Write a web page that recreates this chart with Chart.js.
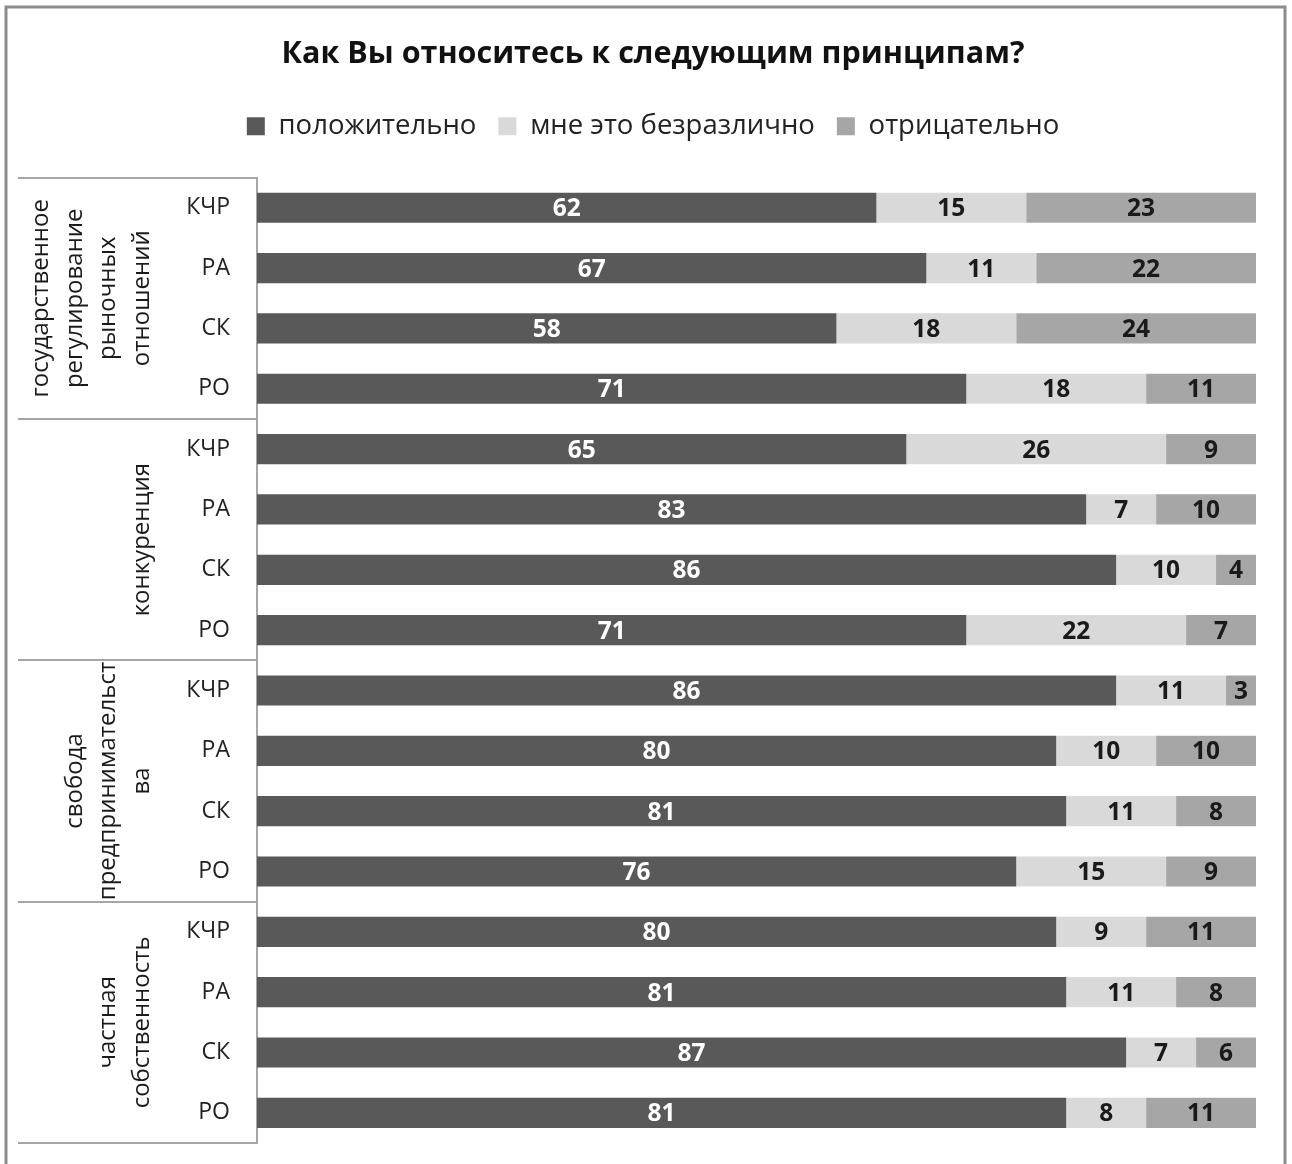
<!DOCTYPE html>
<html>
<head>
<meta charset="utf-8">
<script src="https://cdn.jsdelivr.net/npm/chart.js@4.4.1/dist/chart.umd.min.js"></script>
<style>
  html, body { margin: 0; padding: 0; background: #fff; }
  canvas { display: block; }
</style>
</head>
<body>
<canvas id="c" width="1292" height="1164"></canvas>
<script>
// ---- data ----
const titleText = "Как Вы относитесь к следующим принципам?";
const seriesNames = ["положительно", "мне это безразлично", "отрицательно"];
const groupNames = [
  ["государственное", "регулирование", "рыночных", "отношений"],
  ["конкуренция"],
  ["свобода", "предпринимательст", "ва"],
  ["частная", "собственность"]
];
const regions = ["КЧР", "РА", "СК", "РО"];
const positive    = [62, 67, 58, 71, 65, 83, 86, 71, 86, 80, 81, 76, 80, 81, 87, 81];
const indifferent = [15, 11, 18, 18, 26,  7, 10, 22, 11, 10, 11, 15,  9, 11,  7,  8];
const negative    = [23, 22, 24, 11,  9, 10,  4,  7,  3, 10,  8,  9, 11,  8,  6, 11];

// ---- styles ----
const colors = ["#595959", "#d9d9d9", "#a6a6a6"];
const labelColors = ["#ffffff", "#1a1a1a", "#1a1a1a"];
const FONT = "'Open Sans', 'Noto Sans', sans-serif";

const labels = [];
groupNames.forEach(() => regions.forEach(r => labels.push(r)));

const overlayPlugin = {
  id: 'overlay',
  beforeDraw(chart) {
    const ctx = chart.ctx;
    ctx.save();
    ctx.fillStyle = '#fff';
    ctx.fillRect(0, 0, chart.width, chart.height);
    ctx.restore();
  },
  afterDatasetsDraw(chart) {
    const ctx = chart.ctx;
    ctx.save();
    ctx.font = "bold 24.5px " + FONT;
    ctx.textAlign = 'center';
    ctx.textBaseline = 'middle';
    chart.data.datasets.forEach((ds, di) => {
      const meta = chart.getDatasetMeta(di);
      meta.data.forEach((bar, i) => {
        const v = ds.data[i];
        ctx.fillStyle = labelColors[di];
        ctx.fillText(String(v), (bar.x + bar.base) / 2, bar.y + 1.5);
      });
    });
    ctx.restore();
  },
  afterDraw(chart) {
    const ctx = chart.ctx;
    const ys = chart.scales.y;
    const area = chart.chartArea;
    const n = regions.length;
    ctx.save();
    // group separators
    ctx.strokeStyle = '#a6a6a6';
    ctx.lineWidth = 2;
    const bounds = [area.top];
    for (let g = 1; g < groupNames.length; g++) {
      const a = ys.getPixelForValue(g * n - 1), b = ys.getPixelForValue(g * n);
      bounds.push((a + b) / 2);
    }
    bounds.push(area.bottom);
    bounds.forEach(y => {
      ctx.beginPath();
      ctx.moveTo(18, Math.round(y));
      ctx.lineTo(area.left, Math.round(y));
      ctx.stroke();
    });
    // group labels (rotated)
    ctx.fillStyle = '#1a1a1a';
    ctx.font = "24px " + FONT;
    ctx.textAlign = 'center';
    ctx.textBaseline = 'middle';
    const lineH = 33.5;
    const lastX = 142;
    groupNames.forEach((lines, g) => {
      const cy = (bounds[g] + bounds[g + 1]) / 2;
      lines.forEach((ln, k) => {
        const x = lastX - (lines.length - 1 - k) * lineH;
        ctx.save();
        ctx.translate(x, cy);
        ctx.rotate(-Math.PI / 2);
        ctx.fillText(ln, 0, 0);
        ctx.restore();
      });
    });
    // outer frame
    ctx.strokeStyle = '#8c8c8c';
    ctx.lineWidth = 3;
    ctx.beginPath();
    ctx.moveTo(6, 1170);
    ctx.lineTo(6, 7);
    ctx.lineTo(1285, 7);
    ctx.lineTo(1285, 1170);
    ctx.stroke();
    ctx.restore();
  }
};

new Chart(document.getElementById('c'), {
  type: 'bar',
  data: {
    labels: labels,
    datasets: seriesNames.map((name, i) => ({
      label: name,
      data: [positive, indifferent, negative][i],
      backgroundColor: colors[i],
      borderWidth: 0,
      categoryPercentage: 1.0,
      barPercentage: 0.5
    }))
  },
  options: {
    indexAxis: 'y',
    responsive: false,
    animation: false,
    layout: { padding: { left: 50, right: 36, top: 0, bottom: 21 } },
    plugins: {
      title: {
        display: true,
        text: titleText,
        color: '#111',
        font: { family: FONT, size: 30.5, weight: 'bold' },
        padding: { top: 36, bottom: 18 }
      },
      legend: {
        display: true,
        position: 'top',
        labels: {
          color: '#222',
          font: { family: FONT, size: 27.5 },
          boxWidth: 18,
          boxHeight: 18,
          padding: 22
        }
      },
      tooltip: { enabled: false }
    },
    scales: {
      x: {
        stacked: true,
        min: 0,
        max: 100,
        position: 'top',
        display: true,
        grid: { display: false, drawTicks: false },
        border: { display: false },
        ticks: { display: false },
        afterFit: s => { s.height = 27.5; }
      },
      y: {
        stacked: true,
        grid: {
          display: true,
          drawOnChartArea: false,
          drawTicks: true,
          tickLength: 22,
          color: 'rgba(0,0,0,0)'
        },
        border: { display: true, color: '#a6a6a6', width: 2 },
        ticks: {
          color: '#222',
          font: { family: FONT, size: 23 },
          padding: 5
        },
        afterFit: s => { s.width = 207; }
      }
    }
  },
  plugins: [overlayPlugin]
});
</script>
</body>
</html>
